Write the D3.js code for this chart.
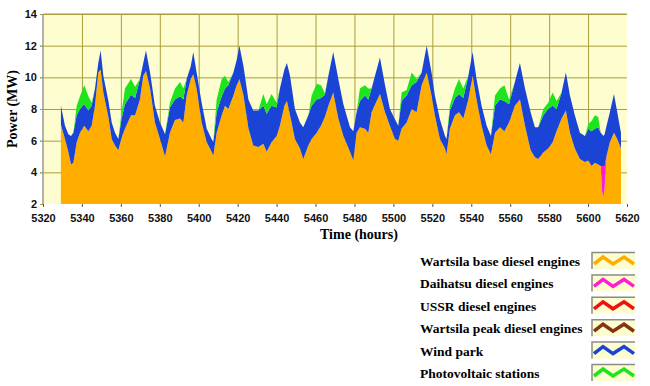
<!DOCTYPE html>
<html>
<head>
<meta charset="utf-8">
<script src="https://cdn.jsdelivr.net/npm/d3@7"></script>
<style>
  body { margin: 0; background: #fff; }
  .tick text { font-family: "Liberation Sans", Arial, sans-serif; font-weight: bold; font-size: 11px; fill: #111; }
  .label { font-family: "Liberation Serif", "Times New Roman", serif; font-weight: bold; fill: #000; }
</style>
</head>
<body>
<div id="chart"></div>
<script>
// time (hours) at turning points
const hours = [
  5329.2, 5331.3, 5333.0, 5334.4, 5335.6, 5337.3, 5339.0, 5341.2, 5343.3, 5345.0,
  5346.7, 5348.4, 5349.6, 5351.0, 5353.6, 5355.3, 5357.0, 5358.7, 5360.4, 5362.1,
  5365.2, 5367.3, 5369.8, 5371.5, 5372.9, 5375.0, 5377.5, 5380.1, 5382.7, 5385.2,
  5387.8, 5390.4, 5392.1, 5393.8, 5395.9, 5397.2, 5398.9, 5401.5, 5404.1, 5406.6,
  5407.5, 5409.2, 5411.8, 5413.5, 5415.2, 5417.8, 5419.5, 5420.9, 5423.0, 5425.5,
  5428.0, 5430.6, 5433.2, 5434.9, 5437.4, 5440.0, 5441.7, 5444.0, 5445.3, 5446.9,
  5449.4, 5452.0, 5453.7, 5456.3, 5458.0, 5460.6, 5462.8, 5464.8, 5466.6, 5469.1,
  5471.7, 5474.3, 5477.7, 5479.4, 5481.1, 5482.8, 5485.4, 5487.1, 5488.8, 5491.0,
  5493.1, 5495.7, 5498.2, 5500.8, 5502.5, 5504.2, 5506.8, 5509.4, 5511.9, 5514.5,
  5517.1, 5519.6, 5521.3, 5523.9, 5526.5, 5527.3, 5529.0, 5531.6, 5533.7, 5535.9,
  5538.5, 5540.7, 5542.7, 5545.3, 5547.9, 5550.1, 5552.2, 5554.7, 5557.0, 5559.4,
  5562.4, 5565.0, 5567.6, 5570.5, 5572.7, 5574.4, 5577.0, 5579.5, 5581.8, 5583.8,
  5586.4, 5588.6, 5590.7, 5593.2, 5595.8, 5598.4, 5600.1, 5601.8, 5603.5, 5605.2,
  5606.5, 5607.2, 5607.8, 5608.5, 5609.5, 5611.2, 5613.3, 5615.0, 5616.9
];

// Wartsila base diesel engines (MW)
const wartsilaBase = [
  7.0, 6.1, 5.3, 4.5, 4.6, 5.9, 6.5, 6.95, 6.6, 6.95,
  8.2, 10.3, 10.5, 9.05, 7.5, 6.1, 5.7, 5.4, 6.2, 6.75,
  7.6, 7.6, 8.6, 10.1, 10.4, 9.3, 7.15, 6.1, 5.0, 6.5,
  7.3, 7.4, 7.15, 8.85, 9.9, 10.2, 9.3, 7.15, 5.9, 5.3,
  5.05, 6.5, 7.6, 8.2, 8.0, 8.85, 9.5, 9.9, 8.85, 6.8,
  5.7, 5.6, 5.8, 5.3, 5.9, 6.3, 6.95, 8.2, 8.5, 7.6,
  6.1, 5.5, 4.85, 5.7, 6.1, 6.5, 6.95, 7.5, 8.2, 9.05,
  7.4, 6.3, 5.3, 4.75, 6.5, 6.85, 6.75, 6.5, 7.8, 8.4,
  8.95, 7.8, 6.95, 6.1, 6.0, 6.75, 7.15, 8.0, 7.8, 9.5,
  10.3, 8.85, 7.6, 6.1, 5.5, 5.15, 6.75, 7.6, 7.8, 7.4,
  8.6, 10.1, 8.6, 6.95, 5.7, 5.15, 6.5, 6.85, 6.6, 7.15,
  8.2, 8.6, 6.95, 5.4, 4.95, 4.85, 5.25, 5.5, 5.9, 6.6,
  7.4, 7.9, 6.5, 5.5, 4.85, 4.65, 4.75, 4.4, 4.6, 4.5,
  4.4, 2.8, 2.4, 3.0, 5.05, 5.9, 6.5, 6.1, 5.5
];

// Daihatsu diesel engines: only running near hour 5608
const daihatsuRun = { 5607.2: 1.6, 5607.8: 2.0, 5608.5: 1.4 };

// Wind park (MW)
const windPark = [
  1.2, 0.85, 1.1, 1.8, 1.9, 1.7, 1.5, 1.35, 1.3, 1.25,
  1.1, 0.6, 1.2, 1.05, 1.0, 1.05, 0.8, 0.7, 1.2, 1.55,
  1.3, 1.1, 1.3, 0.8, 1.3, 1.0, 1.05, 1.05, 1.4, 1.6,
  1.3, 1.4, 1.45, 1.05, 0.8, 1.4, 1.0, 1.25, 0.85, 0.8,
  0.85, 1.3, 1.2, 1.1, 1.5, 1.45, 1.6, 2.1, 1.85, 1.8,
  2.2, 2.3, 2.4, 2.4, 2.3, 1.8, 2.35, 2.3, 2.4, 2.5,
  1.9, 1.65, 2.0, 1.9, 2.1, 2.1, 1.75, 1.4, 1.9, 2.55,
  2.5, 2.0, 1.55, 1.85, 1.3, 1.65, 2.1, 2.1, 1.5, 1.9,
  2.3, 1.7, 1.05, 1.25, 0.95, 1.75, 1.7, 1.5, 1.9, 0.8,
  1.7, 1.45, 1.25, 1.25, 0.8, 0.95, 1.15, 1.1, 1.15, 1.3,
  1.5, 1.5, 1.3, 1.25, 1.25, 1.15, 1.7, 1.75, 1.9, 1.15,
  1.5, 2.3, 2.35, 2.4, 1.9, 2.0, 2.35, 2.5, 2.3, 1.4,
  1.65, 2.4, 2.35, 2.1, 1.65, 1.65, 2.0, 2.2, 2.15, 2.35,
  2.1, 2.0, 1.9, 2.0, 1.9, 1.9, 2.45, 1.7, 1.0
];

// Photovoltaic stations (MW)
const photovoltaic = [
  0, 0, 0, 0, 0, 0.6, 0.8, 1.2, 0.9, 0.2,
  0, 0, 0, 0, 0, 0, 0, 0, 0.4, 1.0,
  1.0, 0.7, 0, 0, 0, 0, 0, 0, 0, 0.3,
  0.7, 0.9, 0.7, 0, 0, 0, 0, 0, 0, 0,
  0, 0.8, 1.1, 0.8, 0.2, 0, 0, 0, 0, 0,
  0, 0, 0.75, 0.6, 0.75, 0.3, 0, 0, 0, 0,
  0, 0, 0, 0, 0.65, 1.0, 0.8, 0.1, 0, 0,
  0, 0, 0, 0, 0, 0.8, 0.65, 0.7, 0, 0,
  0, 0, 0, 0, 0, 0.55, 0.35, 0.8, 0.2, 0,
  0, 0, 0, 0, 0, 0, 0.3, 0.6, 0.95, 0.6,
  0, 0, 0, 0, 0, 0, 0.65, 0.7, 1.0, 0.3,
  0, 0, 0, 0, 0, 0, 0.4, 0.4, 0.85, 0.5,
  0, 0, 0, 0, 0, 0, 0.3, 0.65, 0.85, 0.65,
  0, 0, 0, 0, 0, 0, 0, 0, 0
];

const xTicks = [5320, 5340, 5360, 5380, 5400, 5420, 5440, 5460, 5480, 5500, 5520, 5540, 5560, 5580, 5600, 5620];
const yTicks = [2, 4, 6, 8, 10, 12, 14];

const legendNames = ["Wartsila base diesel engines", "Daihatsu diesel engines", "USSR diesel engines",
  "Wartsila peak diesel engines", "Wind park", "Photovoltaic stations"];
const legendColors = ["#ffae00", "#ff1ed2", "#f01010", "#84340e", "#1a44d6", "#1ee41e"];

const width = 650, height = 386;
const plotL = 43, plotR = 627, plotT = 14, plotB = 204;

const svg = d3.select("#chart").append("svg").attr("width", width).attr("height", height);

const x = d3.scaleLinear().domain([5320, 5620]).range([plotL, plotR]);
const y = d3.scaleLinear().domain([2, 14]).range([plotB, plotT]);

// plot background
svg.append("rect")
  .attr("x", plotL).attr("y", plotT)
  .attr("width", plotR - plotL).attr("height", plotB - plotT)
  .attr("fill", "#fdfdd0");

// grid
svg.append("g")
  .attr("transform", `translate(${plotL},0)`)
  .call(d3.axisLeft(y).tickValues(yTicks.slice(1)).tickSize(-(plotR - plotL) - 3).tickFormat(""))
  .call(g => g.select(".domain").remove())
  .call(g => g.selectAll("line").attr("stroke", "#a89e3c").attr("transform", "translate(-3,0)"));

svg.append("g")
  .attr("transform", `translate(0,${plotT})`)
  .call(d3.axisBottom(x).tickValues(xTicks.slice(1, -1)).tickSize(plotB - plotT).tickFormat(""))
  .call(g => g.select(".domain").remove())
  .call(g => g.selectAll("line").attr("stroke", "#a89e3c"));

// stacked areas
const rows = hours.map((h, i) => ({
  hour: h,
  base: wartsilaBase[i],
  daihatsu: daihatsuRun[h] || 0,
  wind: windPark[i],
  pv: photovoltaic[i]
}));
const keys = ["base", "daihatsu", "wind", "pv"];
const colors = { base: legendColors[0], daihatsu: legendColors[1], wind: legendColors[4], pv: legendColors[5] };
const stacked = d3.stack().keys(keys)(rows);

svg.append("clipPath").attr("id", "plot")
  .append("rect").attr("x", plotL).attr("y", plotT).attr("width", plotR - plotL).attr("height", plotB - plotT);

const area = d3.area()
  .x(d => x(d.data.hour))
  .y0(d => y(d[0]))
  .y1(d => y(d[1]));

svg.append("g").attr("clip-path", "url(#plot)")
  .selectAll("path")
  .data(stacked)
  .join("path")
  .attr("fill", d => colors[d.key])
  .attr("d", area);

// axes
svg.append("g")
  .attr("transform", `translate(0,${plotB})`)
  .call(d3.axisBottom(x).tickValues(xTicks).tickSize(3).tickPadding(7).tickFormat(d3.format("d")))
  .call(g => g.select(".domain").remove())
  .call(g => g.selectAll("line").attr("stroke", "#555"));

svg.append("g")
  .attr("transform", `translate(${plotL},0)`)
  .call(d3.axisLeft(y).tickValues(yTicks).tickSize(3).tickPadding(3))
  .call(g => g.select(".domain").remove())
  .call(g => g.selectAll("line").attr("stroke", "#a89e3c"));

svg.append("line")
  .attr("x1", plotL).attr("x2", plotR).attr("y1", plotT).attr("y2", plotT)
  .attr("stroke", "#a89e3c");
svg.append("line")
  .attr("x1", plotL).attr("x2", plotL).attr("y1", plotT).attr("y2", plotB)
  .attr("stroke", "#999").attr("stroke-width", 1.5);

// axis titles
svg.append("text")
  .attr("class", "label")
  .attr("transform", "translate(17,109) rotate(-90)")
  .style("text-anchor", "middle")
  .style("font-size", "14px")
  .text("Power (MW)");

svg.append("text")
  .attr("class", "label")
  .attr("x", 359)
  .attr("y", 239)
  .style("text-anchor", "middle")
  .style("font-size", "14px")
  .text("Time (hours)");

// legend
const legend = svg.append("g")
  .selectAll("g")
  .data(legendNames)
  .join("g")
  .attr("transform", (d, i) => `translate(0,${252 + i * 22.4})`);

legend.append("text")
  .attr("class", "label")
  .attr("x", 420)
  .attr("y", 14)
  .style("font-size", "13.5px")
  .text(d => d);

legend.append("rect")
  .attr("x", 592).attr("y", 0)
  .attr("width", 43).attr("height", 17)
  .attr("fill", "#fdfdd0");

legend.append("path")
  .attr("d", "M592,17V0.5H635")
  .attr("fill", "none")
  .attr("stroke", "#8a8a8a")
  .attr("stroke-width", 1.5);

legend.append("polyline")
  .attr("points", "594,12 603,5 613,12 624,5 634,12")
  .attr("fill", "none")
  .attr("stroke", (d, i) => legendColors[i])
  .attr("stroke-width", 3.5);
</script>
</body>
</html>
